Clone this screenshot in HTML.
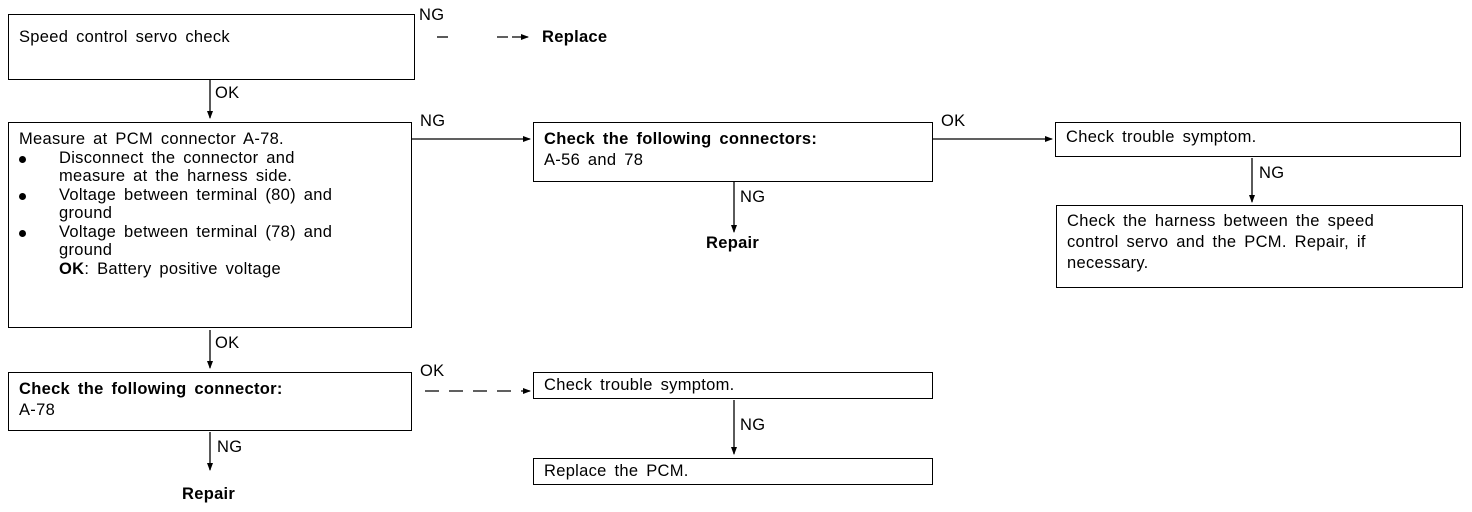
<!DOCTYPE html>
<html><head><style>
body{margin:0;width:1472px;height:512px;background:#fff;position:relative;overflow:hidden;font-family:"Liberation Sans",sans-serif;color:#000;font-size:16.5px;letter-spacing:0.3px;word-spacing:3px}
.b{position:absolute;border:1.5px solid #000;box-sizing:border-box;padding:7px 10px;line-height:21px;white-space:nowrap}
.t{position:absolute;line-height:18px;white-space:nowrap}
.bd{font-weight:bold}
ul{margin:0;padding:0;list-style:none}
li{position:relative;padding-left:40px}
li:before{content:"";position:absolute;left:0;top:7px;width:7px;height:7px;border-radius:50%;background:#000}
svg{position:absolute;left:0;top:0}
</style></head><body>
<svg width="1472" height="512">
<defs><marker id="a" markerWidth="8" markerHeight="8" refX="7" refY="4" orient="auto" markerUnits="userSpaceOnUse"><path d="M0,1L8,4L0,7z" fill="#000"/></marker></defs>
<g stroke="#000" stroke-width="1.3" fill="none">
<line x1="210" y1="80" x2="210" y2="118" marker-end="url(#a)"/>
<line x1="411" y1="139" x2="530" y2="139" marker-end="url(#a)"/>
<line x1="932" y1="139" x2="1052" y2="139" marker-end="url(#a)"/>
<line x1="1252" y1="158" x2="1252" y2="202" marker-end="url(#a)"/>
<line x1="734" y1="182" x2="734" y2="232" marker-end="url(#a)"/>
<line x1="210" y1="330" x2="210" y2="368" marker-end="url(#a)"/>
<line x1="425" y1="391" x2="530" y2="391" stroke-dasharray="14 10" marker-end="url(#a)"/>
<line x1="210" y1="432" x2="210" y2="470" marker-end="url(#a)"/>
<line x1="734" y1="400" x2="734" y2="454" marker-end="url(#a)"/>
<line x1="437" y1="37" x2="448" y2="37"/>
<line x1="497" y1="37" x2="528" y2="37" stroke-dasharray="11 4" marker-end="url(#a)"/>
</g></svg>
<div class="b" style="left:8px;top:14px;width:407px;height:66px;padding-top:12px">Speed control servo check</div>
<div class="t" style="left:419px;top:6px">NG</div>
<div class="t bd" style="left:542px;top:28px">Replace</div>
<div class="t" style="left:215px;top:84px">OK</div>
<div class="b" style="left:8px;top:122px;width:404px;height:206px;padding-top:7px;line-height:18.5px">Measure at PCM connector A-78.
<ul><li>Disconnect the connector and<br>measure at the harness side.</li><li>Voltage between terminal (80) and<br>ground</li><li>Voltage between terminal (78) and<br>ground<br><b>OK</b>: Battery positive voltage</li></ul></div>
<div class="t" style="left:420px;top:112px">NG</div>
<div class="b" style="left:533px;top:122px;width:400px;height:60px;padding-top:6px"><b>Check the following connectors:</b><br>A-56 and 78</div>
<div class="t" style="left:941px;top:112px">OK</div>
<div class="b" style="left:1055px;top:122px;width:406px;height:35px;padding-top:4px">Check trouble symptom.</div>
<div class="t" style="left:1259px;top:164px">NG</div>
<div class="b" style="left:1056px;top:205px;width:407px;height:83px;padding-top:5px">Check the harness between the speed<br>control servo and the PCM. Repair, if<br>necessary.</div>
<div class="t" style="left:740px;top:188px">NG</div>
<div class="t bd" style="left:706px;top:234px">Repair</div>
<div class="t" style="left:215px;top:334px">OK</div>
<div class="b" style="left:8px;top:372px;width:404px;height:59px;padding-top:6px"><b>Check the following connector:</b><br>A-78</div>
<div class="t" style="left:420px;top:362px">OK</div>
<div class="b" style="left:533px;top:372px;width:400px;height:27px;padding-top:2px">Check trouble symptom.</div>
<div class="t" style="left:740px;top:416px">NG</div>
<div class="b" style="left:533px;top:458px;width:400px;height:27px;padding-top:2px">Replace the PCM.</div>
<div class="t" style="left:217px;top:438px">NG</div>
<div class="t bd" style="left:182px;top:485px">Repair</div>
</body></html>
